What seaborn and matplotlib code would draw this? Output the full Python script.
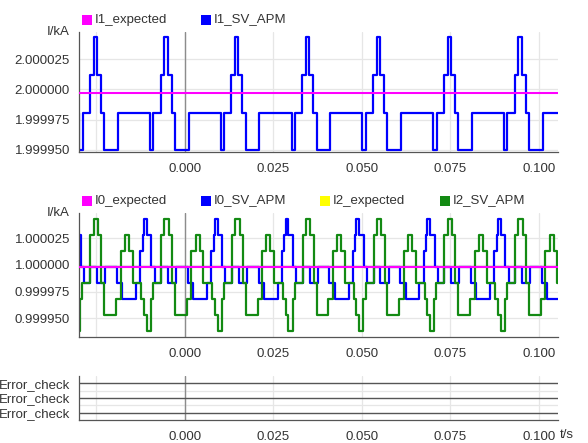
import numpy as np
import pandas as pd
import matplotlib
matplotlib.use('Agg')
import matplotlib.pyplot as plt
from matplotlib.patches import Rectangle
import seaborn as sns

# --- data ----------------------------------------------------------------
# every signal repeats each 20 ms cycle; phase = ms into the cycle where a step starts
cycle_ms = 20.0
first_cycle_ms = -45.8
n_cycles = 8

i1_phase = [0.0, 0.9, 2.0, 3.0, 6.8, 15.9, 16.9, 18.9]
i1_level = [2.0000433, 2.0000117, 1.9999808, 1.9999500, 1.9999808, 1.9999500, 1.9999808, 2.0000117]
i1_expected = 1.9999967

i0_phase = [0.0, 1.0, 3.3, 6.6, 8.1, 12.0, 13.2, 13.9, 14.2, 15.0, 16.3, 17.2, 19.1]
i0_level = [0.9999984, 0.9999834, 0.9999984, 0.9999834, 0.9999684, 0.9999834, 1.0000134,
            1.0000284, 1.0000434, 1.0000284, 0.9999984, 0.9999834, 0.9999984]

i2_phase = [0.0, 1.2, 2.2, 3.0, 6.3, 7.6, 8.8, 9.9, 11.0, 13.5, 14.2, 15.0, 16.2, 16.8, 19.1]
i2_level = [1.0000434, 1.0000284, 0.9999834, 0.9999534, 0.9999684, 1.0000134, 1.0000284, 1.0000134,
            0.9999834, 0.9999684, 0.9999534, 0.9999384, 0.9999684, 0.9999834, 1.0000284]

i0_expected = 0.9999984
i2_expected = 0.9999984
error_check = [0.0, 0.0, 0.0]
error_names = ['Error_check', 'Error_check', 'Error_check']

xticks = [-0.025, 0.0, 0.025, 0.05, 0.075, 0.1]
xticklabels = ['', '0.000', '0.025', '0.050', '0.075', '0.100']
top_yticks = [1.99995, 1.999975, 2.0, 2.000025]
mid_yticks = [0.99995, 0.999975, 1.0, 1.000025]


def stepped(phase, level):
    t, v = [], []
    for n in range(n_cycles):
        for p, lv in zip(phase, level):
            t.append((first_cycle_ms + n * cycle_ms + p) / 1000.0)
            v.append(lv)
    t.append((first_cycle_ms + n_cycles * cycle_ms) / 1000.0)
    v.append(level[0])
    return pd.DataFrame({'t': t, 'v': v})


i1 = stepped(i1_phase, i1_level)
i0 = stepped(i0_phase, i0_level)
i2 = stepped(i2_phase, i2_level)
t_span = [i1['t'].iloc[0], i1['t'].iloc[-1]]

# --- styling --------------------------------------------------------------
sns.set_style('white')
plt.rcParams['font.family'] = ['Liberation Sans', 'DejaVu Sans']
plt.rcParams['font.size'] = 9.5

W, H = 588, 443
fig = plt.figure(figsize=(W / 100, H / 100), dpi=100)


def px_axes(left, top, right, bottom):
    return fig.add_axes([left / W, 1 - bottom / H, (right - left) / W, (bottom - top) / H])


ax1 = px_axes(79, 32, 558, 152)
ax2 = px_axes(79, 213, 558, 336.7)
ax3 = px_axes(79, 376, 558, 420)

xlim = (-0.02994, 0.10537)
for ax in (ax1, ax2, ax3):
    ax.set_xlim(*xlim)
    ax.set_xticks(xticks)
    ax.set_xticklabels(xticklabels)
    ax.grid(True, color='#e6e6e6', lw=0.9, zorder=0)
    ax.set_axisbelow(True)
    ax.axvline(0.0, color='#8c8c8c', lw=1.0, zorder=1)
    for s in ('top', 'right'):
        ax.spines[s].set_visible(False)
    for s in ('left', 'bottom'):
        ax.spines[s].set_color('#555555')
        ax.spines[s].set_linewidth(0.9)
    ax.tick_params(axis='x', length=3.5, width=0.8, color='#555555', pad=4.5,
                   labelsize=9.5, labelcolor='#333333')
    ax.tick_params(axis='y', length=0, pad=6.5, labelsize=9.5, labelcolor='#333333')
    ax.set_xlabel('')
    ax.set_ylabel('')

# top panel: I1
sns.lineplot(data=i1, x='t', y='v', ax=ax1, color='#0000ff', lw=1.6,
             drawstyle='steps-post', estimator=None, sort=False, zorder=2)
ax1.axhline(i1_expected, color='#ff00ff', lw=1.5, zorder=3)
ax1.set_ylim(1.9999483, 2.0000474)
ax1.set_yticks(top_yticks)
ax1.set_yticklabels(['%.6f' % v for v in top_yticks])

# middle panel: I0 and I2
ax2.axhline(i2_expected, color='#ffff00', lw=1.5, zorder=1.5)
sns.lineplot(data=i0, x='t', y='v', ax=ax2, color='#0000ff', lw=1.6,
             drawstyle='steps-post', estimator=None, sort=False, zorder=2)
sns.lineplot(data=i2, x='t', y='v', ax=ax2, color='#138a13', lw=1.6,
             drawstyle='steps-post', estimator=None, sort=False, zorder=2.1)
ax2.axhline(i0_expected, color='#ff00ff', lw=1.5, zorder=3)
ax2.set_ylim(0.9999328, 1.0000487)
ax2.set_yticks(mid_yticks)
ax2.set_yticklabels(['%.6f' % v for v in mid_yticks])

for ax in (ax1, ax2):
    ax.set_xlabel('')
    ax.set_ylabel('')
    ax.annotate('I/kA', xy=(0, 1), xycoords='axes fraction', xytext=(-9, 0),
                textcoords='offset pixels', ha='right', va='center',
                fontsize=9.5, color='#333333')

# bottom panel: digital error lanes
lanes = [2, 1, 0]
for lane, val in zip(lanes, error_check):
    ax3.plot(t_span, [lane + val, lane + val], color='#555555', lw=1.0, zorder=2)
ax3.set_ylim(-0.5, 2.5)
ax3.set_yticks([0.5, 1.5], minor=False)
ax3.set_yticklabels(['', ''])
ax3.set_yticks(lanes, minor=True)
ax3.set_yticklabels(error_names, minor=True)
ax3.tick_params(axis='y', which='minor', length=0, pad=6.5, labelsize=9.5, labelcolor='#333333')
ax3.grid(True, which='major', axis='y', color='#e6e6e6', lw=0.9)
ax3.set_xlabel('')
ax3.set_ylabel('')
fig.text(560 / W, 1 - 435 / H, 't/s', ha='left', va='center', fontsize=9.5, color='#333333')


# legends drawn as little coloured squares + text
def legend_item(x, y, color, label):
    fig.add_artist(Rectangle((x / W, 1 - (y + 5) / H), 10 / W, 10 / H,
                             transform=fig.transFigure, facecolor=color, edgecolor='none'))
    fig.text((x + 13) / W, 1 - y / H, label, ha='left', va='center',
             fontsize=9.5, color='#333333')


legend_item(82, 19.5, '#ff00ff', 'I1_expected')
legend_item(201, 19.5, '#0000ff', 'I1_SV_APM')
legend_item(82, 200.5, '#ff00ff', 'I0_expected')
legend_item(201, 200.5, '#0000ff', 'I0_SV_APM')
legend_item(320, 200.5, '#ffff00', 'I2_expected')
legend_item(440, 200.5, '#138a13', 'I2_SV_APM')

fig.savefig('out.png', dpi=100)
